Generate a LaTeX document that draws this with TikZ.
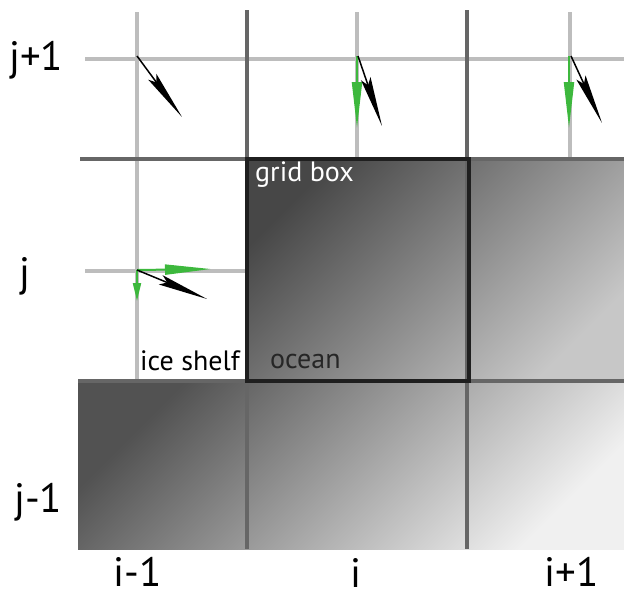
\documentclass[tikz,border=0pt]{standalone}
\usepackage{fontspec}
\setmainfont{PT Sans}
\usetikzlibrary{arrows.meta}

\definecolor{velgreen}{HTML}{3DB83D}

\begin{document}
\begin{tikzpicture}[
  x=1pt, y=-1pt,
  font=\fontsize{28}{30}\selectfont,
  fineline/.style={line width=4pt, draw=black!26},
  coarseline/.style={line width=4pt, draw=black!60},
  boxline/.style={line width=4pt, draw=black!88},
  idx/.style={font=\fontsize{41}{44}\selectfont, inner sep=0pt},
  lbl/.style={inner sep=0pt},
  uvel/.style={line width=2pt, draw=velgreen, -{Triangle[length=46pt, width=10pt, fill=velgreen]}},
  uvelshort/.style={uvel, -{Triangle[length=18pt, width=8pt, fill=velgreen]}},
  vel/.style={line width=1.5pt, -{Stealth[length=50pt, width=10pt, inset=7pt]}},
]
\useasboundingbox (0,0) rectangle (624,598);
% fine grid (velocity points)
\foreach \x/\ya/\yb in {137/12/381, 357/12/159, 570/12/159}{\draw[fineline] (\x,\ya) -- (\x,\yb);}
\draw[fineline] (85,59) -- (624,59);
\draw[fineline] (85,271) -- (247,271);
% shaded ocean cells
\shade[top color=black!72, bottom color=black!22, shading angle=45] (247,159) rectangle (624,381);
\shade[top color=black!68, bottom color=black!6, shading angle=45] (78,381) rectangle (624,549);
% coarse grid
\foreach \x in {247, 467}{\draw[coarseline] (\x,10) -- (\x,549);}
\draw[coarseline] (80,159) -- (624,159);
\draw[coarseline] (78,381) -- (624,381);
% the grid box
\draw[boxline] (247,159) rectangle (469,381);
% text
\node[lbl, text=white, anchor=north west] (gbox) at (255,161) {grid box};
\node[lbl, text=black!85, anchor=base west] (ocean) at (270,368) {ocean};
\node[lbl, anchor=base west] (shelf) at (140,370) {ice shelf};
\node[idx, anchor=base west] (jp) at (9,70) {j+1};
\node[idx, anchor=base west] (j0) at (19,286) {j};
\node[idx, anchor=base west] (jm) at (14,512) {j-1};
\node[idx, anchor=base] (im) at (138,586) {i-1};
\node[idx, anchor=base] (i0) at (356,587) {i};
\node[idx, anchor=base] (ip) at (572,586) {i+1};
% velocity vectors
\coordinate (pa) at (137,56);
\coordinate (pb) at (357,56);
\coordinate (pc) at (569,56);
\coordinate (pd) at (137,270);
\coordinate (ta) at (182,117);
\coordinate (tb) at (382,126);
\coordinate (tc) at (602,123);
\coordinate (td) at (207,299);
\coordinate (gb) at (357,128);
\coordinate (gc) at (569,128);
\coordinate (gdr) at (211,269);
\coordinate (gdd) at (137,301);
\draw[uvel] (pb) -- (gb);
\draw[uvel] (pc) -- (gc);
\draw[uvel] (pd) -- (gdr);
\draw[uvelshort] (pd) -- (gdd);
\draw[vel] (pa) -- (ta);
\draw[vel] ([xshift=1pt]pb) -- (tb);
\draw[vel] ([xshift=2pt]pc) -- (tc);
\draw[vel] (pd) -- (td);
\end{tikzpicture}
\end{document}
